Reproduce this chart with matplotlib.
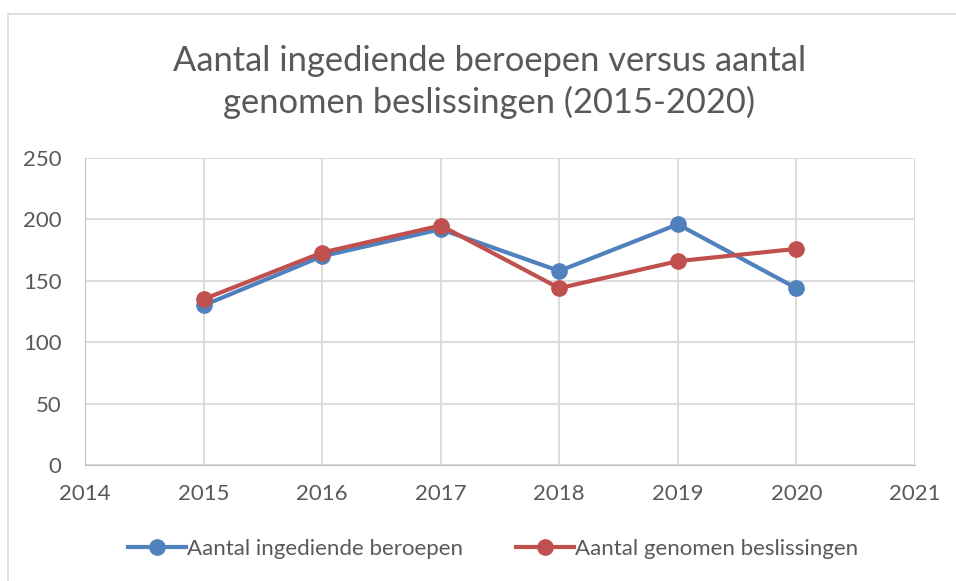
import matplotlib.pyplot as plt
from matplotlib.patches import Rectangle

years = [2015, 2016, 2017, 2018, 2019, 2020]
beroepen = [130, 170, 192, 158, 196, 144]
beslissingen = [135, 173, 195, 144, 166, 176]

label_1 = "Aantal ingediende beroepen"
label_2 = "Aantal genomen beslissingen"
title = "Aantal ingediende beroepen versus aantal\ngenomen beslissingen (2015-2020)"

plt.rcParams['font.family'] = ['Lato', 'DejaVu Sans']
grey = '#595959'

fig = plt.figure(figsize=(9.56, 5.81), dpi=100)
fig.patches.append(Rectangle((8 / 956, -0.01), 1.0, 1 - 13.5 / 581 + 0.01,
                             transform=fig.transFigure, fill=False,
                             edgecolor='#d9d9d9', lw=1.2))

ax = fig.add_axes([85 / 956, 1 - 465 / 581, 830 / 956, 307 / 581])

ax.plot(years, beroepen, color='#4f81bd', lw=3, marker='o', ms=11,
        label=label_1, zorder=3)
ax.plot(years, beslissingen, color='#c0504d', lw=3, marker='o', ms=11,
        label=label_2, zorder=4)

ax.set_xlim(2014, 2021)
ax.set_ylim(0, 250)
ax.set_xticks(range(2014, 2022))
ax.set_yticks(range(0, 251, 50))
ax.grid(color='#d9d9d9', lw=1.3)
ax.set_axisbelow(True)
for s in ax.spines.values():
    s.set_visible(False)
ax.spines['left'].set_visible(True)
ax.spines['bottom'].set_visible(True)
ax.spines['left'].set_color('#bfbfbf')
ax.spines['bottom'].set_color('#bfbfbf')
ax.tick_params(length=0, colors=grey, labelsize=16)
ax.tick_params(axis='x', pad=14)
ax.tick_params(axis='y', pad=17)

fig.text(0.512, 1 - 82 / 581, title, ha='center', va='center',
         fontsize=24.8, color=grey, linespacing=1.33)

fig.legend(loc='center', bbox_to_anchor=(0.516, 1 - 549 / 581), ncol=2,
           frameon=False, fontsize=16, labelcolor=grey, handlelength=2.6,
           columnspacing=2.4, handletextpad=0.05, markerscale=1.0)

plt.savefig('out.png', dpi=100)
